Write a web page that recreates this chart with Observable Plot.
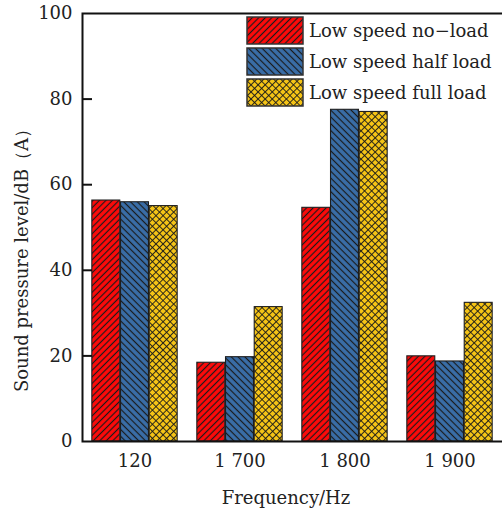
<!DOCTYPE html>
<html>
<head>
<meta charset="utf-8">
<script src="https://cdn.jsdelivr.net/npm/d3@7"></script>
<script src="https://cdn.jsdelivr.net/npm/@observablehq/plot@0.6"></script>
<style>
  html, body { margin: 0; padding: 0; background: #fff; overflow: hidden; }
  #chart { width: 502px; height: 513px; overflow: hidden; position: relative; }
  #chart svg { max-width: none !important; display: block; }
</style>
</head>
<body>
<div id="chart"></div>
<script>
// ---- data ----
const groups = ["120", "1 700", "1 800", "1 900"];
const seriesNames = ["Low speed no\u2212load", "Low speed half load", "Low speed full load"];
const noLoad   = [56.3, 18.4, 54.6, 19.9];
const halfLoad = [55.9, 19.7, 77.5, 18.7];
const fullLoad = [55.0, 31.4, 77.0, 32.4];
const yTicks = [0, 20, 40, 60, 80, 100];
const xLabel = "Frequency/Hz";
const yLabel = "Sound pressure level/dB\uFF08A\uFF09";

// ---- styles ----
const baseColors = ["#ff0a0a", "#3a6ea8", "#f5c416"];
const patternIds = ["hatch-red", "hatch-blue", "hatch-yellow"];
const fills = patternIds.map(id => `url(#${id})`);
const font = "DejaVu Serif";

const W = 512, H = 513;
const mL = 82, mR = 8, mT = 13, mB = 72;
const plotW = W - mL - mR;
const xRange = [80, 503];
const step = (xRange[1] - xRange[0]) / groups.length;
const bw = 28.7;
const inset = (step - bw) / 2;

const seriesValues = [noLoad, halfLoad, fullLoad];
const rows = seriesValues.map((vals, j) => groups.map((g, i) => ({group: g, series: seriesNames[j], value: vals[i]})));

const marks = [
  ...rows.map((r, j) => Plot.barY(r, {
    x: "group", y: "value", fill: fills[j],
    stroke: "#1e1e1e", strokeWidth: 1.1,
    insetLeft: inset, insetRight: inset, dx: (j - 1) * bw
  })),
  Plot.ruleY(yTicks.slice(1, -1), {stroke: "#111", strokeWidth: 2, insetRight: plotW - 10}),
  Plot.frame({stroke: "#111", strokeWidth: 2}),
  Plot.axisY({ticks: yTicks, tickSize: 0, tickPadding: 10, label: null, fontSize: 18}),
  Plot.axisX({tickSize: 0, tickPadding: 13, label: null, fontSize: 18})
];

const svg = Plot.plot({
  width: W, height: H,
  marginLeft: mL, marginRight: mR, marginTop: mT, marginBottom: mB,
  style: {fontFamily: font, fontSize: "18px", color: "#222", background: "#fff", maxWidth: "none"},
  x: {domain: groups, range: xRange, padding: 0},
  y: {domain: [0, 100]},
  marks
});

// ---- patterns ----
const s = d3.select(svg);
const defs = s.insert("defs", ":first-child");
function linePattern(id, color, angle, size, cross) {
  const p = defs.append("pattern").attr("id", id)
    .attr("patternUnits", "userSpaceOnUse")
    .attr("width", size).attr("height", size)
    .attr("patternTransform", `rotate(${angle})`);
  p.append("rect").attr("width", size).attr("height", size).attr("fill", color);
  p.append("line").attr("x1", size / 2).attr("x2", size / 2).attr("y1", 0).attr("y2", size)
    .attr("stroke", "#1a1a1a").attr("stroke-width", cross ? 0.9 : 1.2);
  if (cross) p.append("line").attr("y1", size / 2).attr("y2", size / 2).attr("x1", 0).attr("x2", size)
    .attr("stroke", "#1a1a1a").attr("stroke-width", 0.9);
}
linePattern(patternIds[0], baseColors[0], 45, 4.6, false);
linePattern(patternIds[1], baseColors[1], -45, 4.8, false);
linePattern(patternIds[2], baseColors[2], 45, 5, true);

// ---- axis titles ----
s.append("text").attr("transform", "translate(22,256) rotate(-90)")
  .attr("text-anchor", "middle").attr("dy", "0.35em")
  .attr("font-family", font).attr("font-size", 18).attr("fill", "#222")
  .text(yLabel);
s.append("text").attr("x", 286).attr("y", 498).attr("dy", "0.35em")
  .attr("text-anchor", "middle")
  .attr("font-family", font).attr("font-size", 18).attr("fill", "#222")
  .text(xLabel);

// ---- legend ----
const lg = s.append("g").attr("text-anchor", "start");
seriesNames.forEach((name, j) => {
  const y0 = 17 + j * 31;
  lg.append("rect").attr("x", 247).attr("y", y0).attr("width", 56).attr("height", 27)
    .attr("fill", fills[j]).attr("stroke", "#333").attr("stroke-width", 1.5);
  lg.append("text").attr("x", 309).attr("y", y0 + 13.5).attr("dy", "0.35em")
    .attr("text-anchor", "start")
    .attr("font-family", font).attr("font-size", 18).attr("fill", "#222")
    .text(name);
});

document.getElementById("chart").appendChild(svg);
</script>
</body>
</html>
